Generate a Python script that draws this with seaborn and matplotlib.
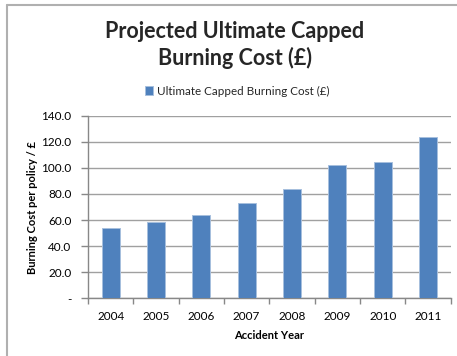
import matplotlib
matplotlib.use("Agg")
import matplotlib.pyplot as plt
from matplotlib.lines import Line2D
from matplotlib.ticker import FixedLocator, FuncFormatter
import seaborn as sns
import pandas as pd

# Projected ultimate capped burning cost per policy, by accident year
years = ["2004", "2005", "2006", "2007", "2008", "2009", "2010", "2011"]
burning_cost = [53.7, 58.4, 64.1, 72.8, 83.8, 102.2, 104.3, 123.9]
y_ticks = [0, 20, 40, 60, 80, 100, 120, 140]

series_name = "Ultimate Capped Burning Cost (£)"
df = pd.DataFrame({"Accident Year": years, series_name: burning_cost})

sns.set_theme(style="white")
plt.rcParams["font.family"] = ["Lato", "DejaVu Sans"]

W, H = 457, 356
fig = plt.figure(figsize=(W / 100, H / 100), dpi=100)
ax = fig.add_axes([88 / W, 1 - 298.3 / H, (450.7 - 88) / W, (298.3 - 115.7) / H])

bar_color = "#4F81BD"
sns.barplot(data=df, x="Accident Year", y=series_name, ax=ax, color=bar_color,
            width=0.4, edgecolor="#A7BFDE", linewidth=0.7, saturation=1,
            label=series_name, zorder=3)

ax.set_xlim(-0.5, len(years) - 0.5)
ax.set_ylim(0, 140)
ax.set_yticks(y_ticks)
ax.yaxis.set_major_formatter(FuncFormatter(lambda v, p: "-" if v == 0 else f"{v:.1f}"))
ax.yaxis.grid(True, color="#A0A0A0", linewidth=1.0, zorder=0)
ax.xaxis.grid(False)

# category boundary ticks on the x axis
ax.xaxis.set_minor_locator(FixedLocator([i - 0.5 for i in range(len(years) + 1)]))
ax.tick_params(axis="x", which="major", length=0, pad=9, labelsize=8.5, colors="#000000")
ax.tick_params(axis="x", which="minor", length=4, width=1, color="#888888", direction="out", bottom=True)
ax.tick_params(axis="y", which="major", length=5, width=1, color="#888888", direction="out",
               left=True, labelsize=8.5, pad=7, labelcolor="#000000")

for side in ("top", "right"):
    ax.spines[side].set_visible(False)
for side in ("left", "bottom"):
    ax.spines[side].set_color("#888888")
    ax.spines[side].set_linewidth(1.0)

ax.set_xlabel("Accident Year", fontsize=8, fontweight="bold", labelpad=6, color="black")
ax.set_ylabel("Burning Cost per policy / £", fontsize=8, fontweight="bold", labelpad=2, color="black")

fig.text(235 / W, 1 - 45 / H, "Projected Ultimate Capped\nBurning Cost (£)",
         ha="center", va="center", fontsize=15.5, fontweight="bold", linespacing=1.25)

leg = ax.legend(loc="center", bbox_to_anchor=(237 / W, 1 - 91 / H), bbox_transform=fig.transFigure,
                frameon=False, fontsize=8.4, handlelength=0.75, handleheight=0.75, handletextpad=0.3)

# outer chart frame
frame_kw = dict(color="#B0B0B0", linewidth=1.5, transform=fig.transFigure)
fig.add_artist(Line2D([7 / W, 7 / W], [0, 1 - 5 / H], **frame_kw))
fig.add_artist(Line2D([7 / W, 1], [1 - 5 / H, 1 - 5 / H], **frame_kw))

fig.savefig("out.png", dpi=100, facecolor="white")
